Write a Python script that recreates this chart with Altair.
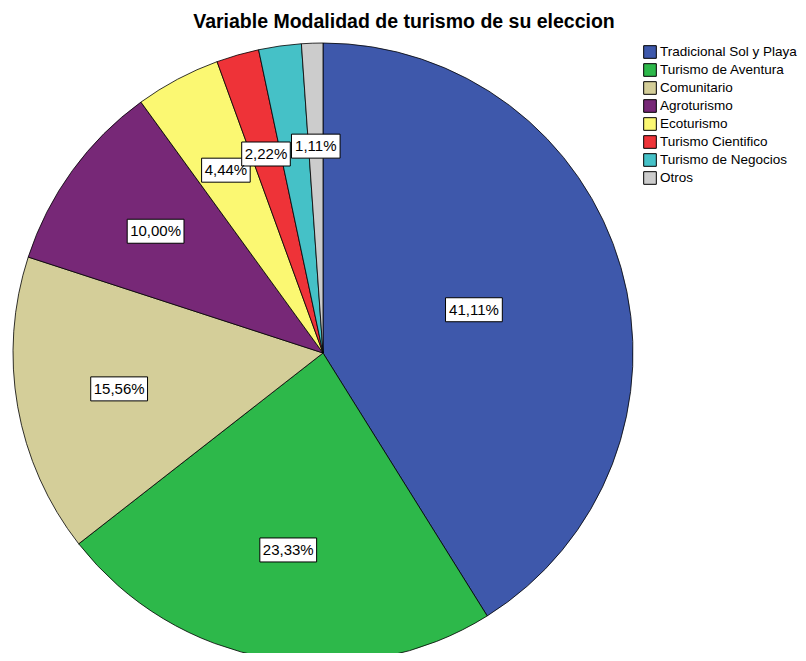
import altair as alt
import pandas as pd

categories = ["Tradicional Sol y Playa", "Turismo de Aventura", "Comunitario", "Agroturismo",
              "Ecoturismo", "Turismo Cientifico", "Turismo de Negocios", "Otros"]
percents = [41.11, 23.33, 15.56, 10.00, 4.44, 2.22, 2.22, 1.11]
colors = ["#3E58AB", "#2DB84A", "#D4CE99", "#772877", "#FBF872", "#EE3338", "#45C1C7", "#CCCCCC"]
title_text = "Variable Modalidad de turismo de su eleccion"

FONT = "Liberation Sans"
LABEL_FS = 15
CX, CY, R = 315, 345, 310

def label_of(v):
    return f"{v:.2f}".replace(".", ",") + "%"

def box_path(s):
    w = sum(0.556 if c.isdigit() else (0.278 if c == "," else 0.889) for c in s) * LABEL_FS + 6
    h = 24
    return f"M{-w/2:.1f},{-h/2}H{w/2:.1f}V{h/2}H{-w/2:.1f}Z"

df = pd.DataFrame({
    "cat": categories,
    "pct": percents,
    "idx": list(range(len(categories))),
})
df["label"] = [label_of(v) for v in percents]
df["box"] = [box_path(l) for l in df["label"]]

base = alt.Chart(df)

pie = base.mark_arc(radius=R, stroke="black", strokeWidth=0.8).encode(
    theta=alt.Theta("pct:Q", stack=True),
    color=alt.Color("cat:N", scale=alt.Scale(domain=categories, range=colors),
                    sort=categories, legend=alt.Legend(title=None)),
    order=alt.Order("idx:Q"),
    x=alt.value(CX),
    y=alt.value(CY),
)

lab = (
    base.transform_joinaggregate(total="sum(pct)")
    .transform_window(cum="sum(pct)", sort=[alt.SortField("idx")], frame=[None, 0])
    .transform_calculate(
        mid="(datum.cum - datum.pct / 2) / datum.total * 2 * PI",
        lr="datum.pct > 40 ? 157 : (datum.pct > 20 ? 200 : 207)",
    )
    .transform_calculate(
        lx=f"{CX} + datum.lr * sin(datum.mid)",
        ly=f"{CY} - datum.lr * cos(datum.mid)",
    )
    .transform_filter("datum.cat != 'Turismo de Negocios'")
)

boxes = lab.mark_point(filled=True, fill="white", stroke="black", strokeWidth=1,
                       opacity=1, size=4).encode(
    x=alt.X("lx:Q", scale=None, axis=None),
    y=alt.Y("ly:Q", scale=None, axis=None),
    shape=alt.Shape("box:N", scale=None),
)

texts = lab.mark_text(font=FONT, fontSize=LABEL_FS, color="black",
                      align="center", baseline="middle").encode(
    x=alt.X("lx:Q", scale=None, axis=None),
    y=alt.Y("ly:Q", scale=None, axis=None),
    text="label:N",
)

title = alt.Chart(pd.DataFrame({"t": [title_text]})).mark_text(
    font=FONT, fontSize=19.5, fontWeight="bold", color="black",
    align="center", baseline="middle"
).encode(x=alt.value(396), y=alt.value(14), text="t:N")

chart = alt.layer(pie, boxes, texts, title).properties(
    width=790, height=645,
    autosize=alt.AutoSizeParams(type="none"),
    padding=0,
).configure_view(stroke=None).configure_legend(
    orient="none", legendX=635, legendY=37, padding=0,
    symbolType="square", symbolSize=160, symbolStrokeColor="black",
    symbolStrokeWidth=1, symbolOpacity=1,
    labelFont=FONT, labelFontSize=13.5, labelColor="black", labelOffset=3,
    rowPadding=0, labelLimit=300,
)

chart.save("out.html", embed_options={"renderer": "svg", "actions": False})
